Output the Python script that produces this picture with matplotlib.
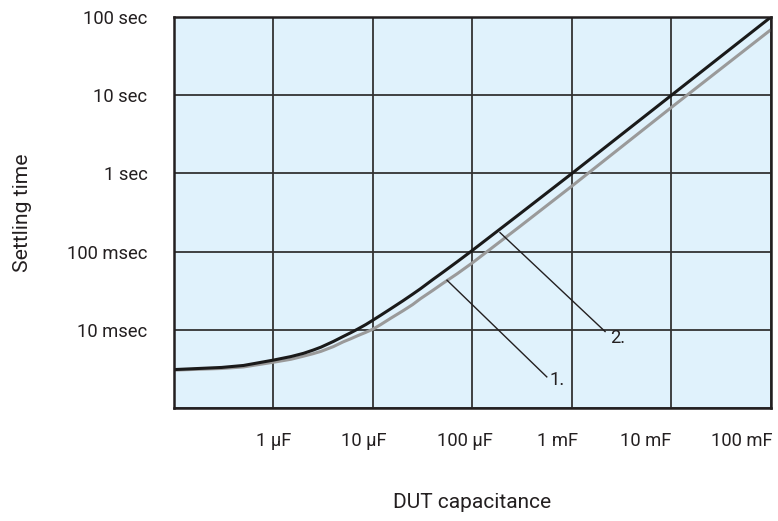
import matplotlib
matplotlib.use("Agg")
import matplotlib.pyplot as plt
import matplotlib.transforms as mtransforms

plt.rcParams['font.family'] = ['Roboto', 'DejaVu Sans']

# Data
cap = [1e-7, 3e-7, 5e-7, 1e-6, 1.5e-6, 2e-6, 2.5e-6, 3e-6, 4e-6, 5e-6, 6e-6,
       7e-6, 8.5e-6, 1e-5, 1.2e-5, 1.5e-5, 2e-5, 2.5e-5, 3e-5, 4e-5, 5e-5,
       7e-5, 1e-4, 3e-4, 1e-3, 1e-2, 1e-1]
t_curve2 = [3.1e-3, 3.3e-3, 3.5e-3, 4.1e-3, 4.55e-3, 5.0e-3, 5.5e-3, 6.0e-3,
            7.1e-3, 8.2e-3, 9.2e-3, 10.2e-3, 11.7e-3, 13.3e-3, 15.4e-3,
            18.5e-3, 23.5e-3, 28.5e-3, 33.5e-3, 44e-3, 54e-3, 74e-3, 104e-3,
            0.305, 1.0, 10.0, 100.0]
t_curve1 = [3.05e-3, 3.2e-3, 3.35e-3, 3.85e-3, 4.2e-3, 4.6e-3, 4.95e-3, 5.3e-3,
            6.1e-3, 7.0e-3, 7.7e-3, 8.4e-3, 9.3e-3, 10.2e-3, 11.7e-3,
            14e-3, 17.5e-3, 21e-3, 25e-3, 32e-3, 39e-3, 52e-3, 72e-3,
            0.21, 0.69, 7.0, 69.0]

x_ticks = [1e-6, 1e-5, 1e-4, 1e-3, 1e-2, 1e-1]
x_tick_labels = ["1 µF", "10 µF", "100 µF", "1 mF", "10 mF", "100 mF"]
x_label_shift_px = [0, -9, -8, -14, -26, -29]
y_ticks = [1e-3, 1e-2, 1e-1, 1, 10, 100]
y_tick_labels = ["", "10 msec", "100 msec", "1 sec", "10 sec", "100 sec"]

# annotation leaders
ann_labels = ["1.", "2."]
ann_start = [(5.55e-5, 43e-3), (1.89e-4, 0.175)]
ann_end = [(5.58e-4, 2.5e-3), (2.15e-3, 9.5e-3)]
ann_text_pos = [(5.9e-4, 2.3e-3), (2.41e-3, 7.85e-3)]

fig = plt.figure(figsize=(7.78, 5.21), dpi=100)
ax = fig.add_axes([174/778, 1-408/521, (771-174)/778, (408-17)/521])
ax.set_facecolor('#e0f2fc')

ax.set_xscale('log')
ax.set_yscale('log')
ax.set_xlim(1e-7, 1e-1)
ax.set_ylim(1e-3, 1e2)

ax.set_xticks(x_ticks)
ax.set_xticklabels(x_tick_labels)
ax.set_yticks(y_ticks)
ax.set_yticklabels(y_tick_labels)
ax.minorticks_off()
ax.tick_params(axis='both', length=0, labelsize=13.2, colors='#231f20')
ax.tick_params(axis='x', pad=17)
ax.tick_params(axis='y', pad=19)

for lab, dx in zip(ax.get_xticklabels(), x_label_shift_px):
    lab.set_transform(lab.get_transform() +
                      mtransforms.ScaledTranslation(dx/100, 0, fig.dpi_scale_trans))

ax.grid(True, which='major', color='#333333', linewidth=1.3)
ax.set_axisbelow(True)
for s in ax.spines.values():
    s.set_color('#231f20')
    s.set_linewidth(1.8)

ax.plot(cap, t_curve1, color='#9a9a9a', linewidth=2.2, solid_capstyle='butt')
ax.plot(cap, t_curve2, color='#1a1a1a', linewidth=2.2, solid_capstyle='butt')

for lab, (sx, sy), (ex, ey), (tx, ty) in zip(ann_labels, ann_start, ann_end, ann_text_pos):
    ax.plot([sx, ex], [sy, ey], color='#231f20', linewidth=1.0)
    ax.text(tx, ty, lab, fontsize=13.2, color='#231f20', ha='left', va='center')

ax.set_xlabel("DUT capacitance", fontsize=15, color='#231f20')
ax.set_ylabel("Settling time", fontsize=15.2, color='#231f20')
ax.xaxis.set_label_coords(0.5, (408-503)/391)
ax.xaxis.label.set_va('center')
ax.yaxis.set_label_coords((22.5-174)/597, 0.5)
ax.yaxis.label.set_va('center')

fig.savefig("out.png", dpi=100)
